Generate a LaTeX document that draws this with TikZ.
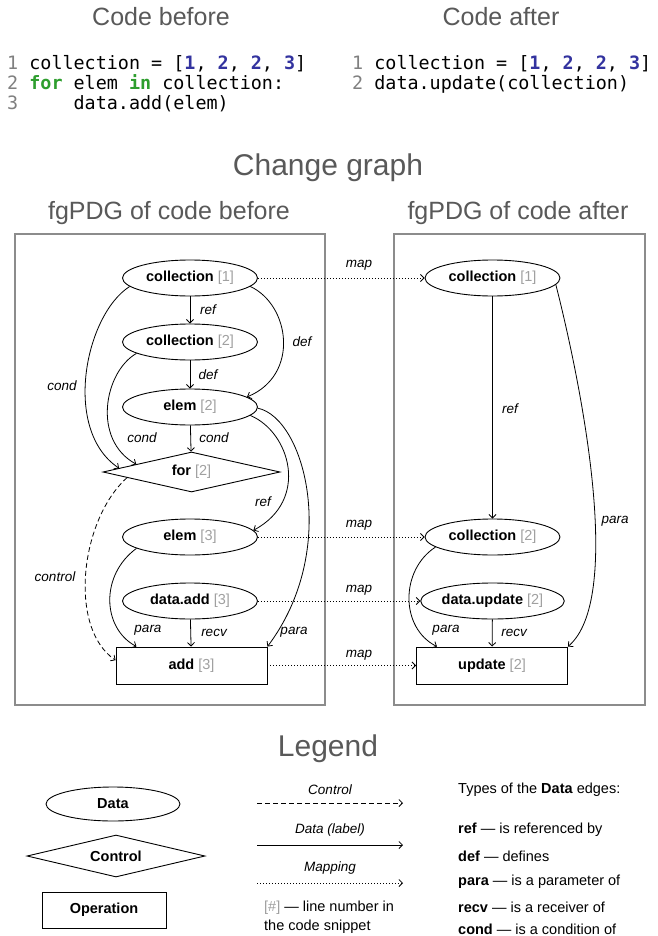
\documentclass[tikz,border=0pt]{standalone}
\usepackage{fontspec}
\setmainfont{Liberation Sans}
\newfontfamily\codefont{DejaVu Sans Mono}
\usetikzlibrary{arrows.meta,shapes.geometric}
\definecolor{titlegray}{HTML}{595959}
\definecolor{boxgray}{HTML}{8C8C8C}
\definecolor{numgray}{HTML}{A0A0A0}
\definecolor{lngray}{HTML}{808080}
\definecolor{kwgreen}{HTML}{2E9E2E}
\definecolor{numblue}{HTML}{33339F}
\newcommand\nlab[2]{\textbf{#1} \textcolor{numgray}{[#2]}}
\newcommand\cnum[1]{\textcolor{numblue}{\textbf{#1}}}
\newcommand\ckw[1]{\textcolor{kwgreen}{\textbf{#1}}}
\newcommand\cln[1]{\textcolor{lngray}{#1}}
\tikzset{
  bigtitle/.style={text=titlegray, font=\fontsize{30}{34}\selectfont, inner sep=0},
  subtitle/.style={text=titlegray, font=\fontsize{25}{28}\selectfont, inner sep=0},
  codeline/.style={anchor=base west, inner sep=0, font=\codefont\fontsize{18.4}{20}\selectfont},
  datanode/.style={ellipse, draw, line width=0.9pt, minimum width=135pt, minimum height=36pt, inner sep=0, font=\fontsize{14.5}{16}\selectfont},
  ctrlnode/.style={diamond, draw, line width=0.9pt, aspect=4.4, minimum width=177pt, minimum height=40pt, inner sep=0, font=\fontsize{14.5}{16}\selectfont},
  opnode/.style={rectangle, draw, line width=0.9pt, minimum width=151pt, minimum height=37pt, inner sep=0, font=\fontsize{14.5}{16}\selectfont},
  graphbox/.style={draw=boxgray, line width=1.4pt},
  dflow/.style={-{Straight Barb[length=3.5pt,width=7pt]}, line width=0.8pt},
  cflow/.style={dflow, dash pattern=on 5pt off 3pt},
  mflow/.style={dflow, dash pattern=on 1pt off 2pt},
  elab/.style={font=\fontsize{13.5}{15}\selectfont\itshape, inner sep=0},
  legtext/.style={font=\fontsize{14.5}{19}\selectfont, inner sep=0, anchor=west},
}
\begin{document}
\begin{tikzpicture}[x=1pt,y=-1pt]
\useasboundingbox (0,0) rectangle (657,936);
\fill[white] (0,0) rectangle (657,936);
% ---------- code ----------
\node[subtitle] (tbefore) at (161,17) {Code before};
\node[subtitle] (tafter) at (501,17) {Code after};
\node[codeline] (l1) at (7,70) {\cln{1} collection = [\cnum{1}, \cnum{2}, \cnum{2}, \cnum{3}]};
\node[codeline] (l2) at (7,90) {\cln{2} \ckw{for} elem \ckw{in} collection:};
\node[codeline] (l3) at (7,110) {\cln{3}\ \ \ \ \ data.add(elem)};
\node[codeline] (r1) at (352,70) {\cln{1} collection = [\cnum{1}, \cnum{2}, \cnum{2}, \cnum{3}]};
\node[codeline] (r2) at (352,90) {\cln{2} data.update(collection)};
% ---------- titles ----------
\node[bigtitle] (tchange) at (328,168) {Change graph};
\node[subtitle] (tleft) at (169,213) {fgPDG of code before};
\node[subtitle] (tright) at (518,213) {fgPDG of code after};
\draw[graphbox] (15,234) rectangle (325,705);
\draw[graphbox] (394,234) rectangle (645,705);
% ---------- left graph ----------
\node[datanode] (c1) at (190,278) {\nlab{collection}{1}};
\node[datanode] (c2) at (190,342) {\nlab{collection}{2}};
\node[datanode] (e2) at (190,407) {\nlab{elem}{2}};
\node[ctrlnode] (for) at (191.5,472) {\nlab{for}{2}};
\node[datanode] (e3) at (190,537) {\nlab{elem}{3}};
\node[datanode] (da) at (190,601) {\nlab{data.add}{3}};
\node[opnode] (add) at (191.5,665.5) {\nlab{add}{3}};
% ---------- right graph ----------
\node[datanode] (rc1) at (492.5,278) {\nlab{collection}{1}};
\node[datanode] (rc2) at (492.5,537) {\nlab{collection}{2}};
\node[datanode] (du) at (492.5,601) {\nlab{data.update}{2}};
\node[opnode] (up) at (492,665.5) {\nlab{update}{2}};
% ---------- left edges ----------
\draw[dflow] (c1) -- (c2);
\node[elab] (lref1) at (208,310) {ref};
\draw[dflow] (c2) -- (e2);
\node[elab] (ldef1) at (208,375) {def};
\draw[dflow] (c1.352) .. controls (290,305) and (300,375) .. (e2.10);
\node[elab] (ldef2) at (302,342) {def};
\draw[dflow] (c1.188) .. controls (85,315) and (62,430) .. (for.177);
\node[elab] (lcond1) at (62,386) {cond};
\draw[dflow] (c2.192) .. controls (104,372) and (92,440) .. (for.172);
\node[elab] (lcond2) at (142,438) {cond};
\draw[dflow] (e2) -- (for);
\node[elab] (lcond3) at (214,438) {cond};
\draw[dflow] (e2.352) .. controls (290,432) and (310,500) .. (e3.6);
\node[elab] (lref2) at (263,502) {ref};
\draw[dflow] (e2.359) .. controls (305,418) and (340,550) .. (add.north east);
\node[elab] (lpara1) at (294,632) {para};
\draw[dflow] (e3.192) .. controls (100,575) and (102,628) .. (add.161);
\node[elab] (lpara2) at (148,630) {para};
\draw[dflow] (da) -- (add);
\node[elab] (lrecv1) at (214,633) {recv};
\draw[cflow] (for.185) .. controls (80,520) and (68,628) .. (add.176);
\node[elab] (lctrl) at (55,577) {control};
% ---------- right edges ----------
\draw[dflow] (rc1) -- (rc2);
\node[elab] (rref) at (510,409) {ref};
\draw[dflow] (rc1.354) .. controls (585,400) and (622,600) .. (up.north east);
\node[elab] (rpara1) at (615,521) {para};
\draw[dflow] (rc2.190) .. controls (400,570) and (400,628) .. (up.161);
\node[elab] (rpara2) at (446,630) {para};
\draw[dflow] (du) -- (up);
\node[elab] (rrecv) at (514,633) {recv};
% ---------- mappings ----------
\draw[mflow] (c1) -- (rc1);
\node[elab] (m1) at (359,265) {map};
\draw[mflow] (e3) -- (rc2);
\node[elab] (m2) at (359,525) {map};
\draw[mflow] (da) -- (du);
\node[elab] (m3) at (359,590) {map};
\draw[mflow] (add) -- (up);
\node[elab] (m4) at (359,655) {map};
% ---------- legend ----------
\node[bigtitle] (tlegend) at (328,749) {Legend};
\node[datanode, minimum width=134pt, minimum height=34pt] (lgdata) at (113,804) {\textbf{Data}};
\node[ctrlnode, minimum width=178pt, minimum height=42pt] (lgctrl) at (116,856) {\textbf{Control}};
\node[opnode, minimum width=124pt, minimum height=36pt] (lgop) at (104,910) {\textbf{Operation}};
\node[elab] (lgl1) at (330,790) {Control};
\coordinate (la1) at (257,803);
\coordinate (lb1) at (403,803);
\draw[cflow] (la1) -- (lb1);
\node[elab] (lgl2) at (330,830) {Data (label)};
\coordinate (la2) at (257,845);
\coordinate (lb2) at (403,845);
\draw[dflow] (la2) -- (lb2);
\node[elab] (lgl3) at (330,868) {Mapping};
\coordinate (la3) at (257,883);
\coordinate (lb3) at (403,883);
\draw[mflow] (la3) -- (lb3);
\node[legtext, align=left] (lgnum) at (264,917) {\textcolor{numgray}{[\#]} — line number in\\the code snippet};
\node[legtext] (ty) at (458,790) {Types of the \textbf{Data} edges:};
\node[legtext] (ty1) at (458,830) {\textbf{ref} — is referenced by};
\node[legtext] (ty2) at (458,856) {\textbf{def} — defines};
\node[legtext] (ty3) at (458,882) {\textbf{para} — is a parameter of};
\node[legtext] (ty4) at (458,907) {\textbf{recv} — is a receiver of};
\node[legtext] (ty5) at (458,929) {\textbf{cond} — is a condition of};
\end{tikzpicture}
\end{document}
